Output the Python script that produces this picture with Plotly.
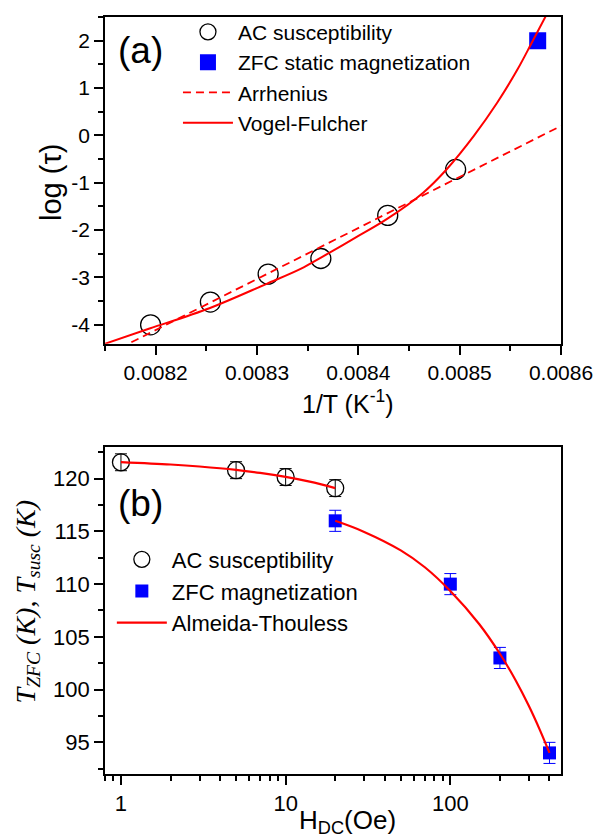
import plotly.graph_objects as go

# ---------------- Panel (a) data ----------------
ac_invT = [0.008195, 0.008254, 0.008311, 0.008363, 0.008429, 0.008496]
ac_logtau = [-4.00, -3.52, -2.93, -2.60, -1.69, -0.72]
zfc_invT = [0.008577]
zfc_logtau = [2.00]
arr_invT = [0.008176, 0.0086]
arr_logtau = [-4.37, 0.20]
vf_invT = [0.00815, 0.008194, 0.008253, 0.008309, 0.008343, 0.008364, 0.008398,
           0.008428, 0.008464, 0.008487, 0.008514, 0.008537, 0.008557, 0.008571, 0.008585]
vf_logtau = [-4.40, -4.08, -3.65, -3.14, -2.82, -2.57, -2.15,
             -1.77, -1.21, -0.72, -0.01, 0.69, 1.39, 1.95, 2.52]
a_xtick_vals = [0.0082, 0.0083, 0.0084, 0.0085, 0.0086]
a_xtick_text = ["0.0082", "0.0083", "0.0084", "0.0085", "0.0086"]
a_ytick_vals = [-4, -3, -2, -1, 0, 1, 2]
a_ytick_text = ["-4", "-3", "-2", "-1", "0", "1", "2"]

# ---------------- Panel (b) data ----------------
ac_H = [1, 5, 10, 20]
ac_T = [121.55, 120.8, 120.15, 119.1]
ac_err = [0.8, 0.8, 0.8, 0.8]
zfc_H = [20, 100, 200, 400]
zfc_T = [116.0, 110.0, 103.0, 94.0]
zfc_err = [1.0, 1.0, 1.0, 1.0]
at1_H = [1, 2, 3, 5, 7, 10, 14, 20]
at1_T = [121.57, 121.34, 121.15, 120.83, 120.54, 120.16, 119.71, 119.1]
at2_H = [20, 30, 50, 70, 100, 150, 200, 250, 300, 350, 400]
at2_T = [116.0, 114.95, 113.2, 111.6, 109.35, 106.2, 103.4, 100.84, 98.44, 96.16, 94.0]
b_ytick_vals = [95, 100, 105, 110, 115, 120]

RED = "#FF0000"
BLUE = "#0000FF"
FONT = "Liberation Sans"

fig = go.Figure()

# Panel (a)
fig.add_trace(go.Scatter(x=ac_invT, y=ac_logtau, mode="markers", name="AC susceptibility",
                         marker=dict(symbol="circle-open", size=20, color="black", line=dict(width=1.3)),
                         xaxis="x", yaxis="y", legend="legend", legendrank=1))
fig.add_trace(go.Scatter(x=zfc_invT, y=zfc_logtau, mode="markers", name="ZFC static magnetization",
                         marker=dict(symbol="square", size=17, color=BLUE),
                         xaxis="x", yaxis="y", legend="legend", legendrank=2))
fig.add_trace(go.Scatter(x=arr_invT, y=arr_logtau, mode="lines", name="Arrhenius",
                         line=dict(color=RED, width=1.8, dash="8px,5px"),
                         xaxis="x", yaxis="y", legend="legend", legendrank=3))
fig.add_trace(go.Scatter(x=vf_invT, y=vf_logtau, mode="lines", name="Vogel-Fulcher",
                         line=dict(color=RED, width=2, shape="spline"),
                         xaxis="x", yaxis="y", legend="legend", legendrank=4))

# Panel (b)
fig.add_trace(go.Scatter(x=ac_H, y=ac_T, mode="markers", name="AC susceptibility",
                         marker=dict(symbol="circle-open", size=17, color="black", line=dict(width=1.3)),
                         error_y=dict(type="data", array=ac_err, color="black", thickness=1, width=6),
                         xaxis="x2", yaxis="y2", legend="legend2", legendrank=1))
fig.add_trace(go.Scatter(x=zfc_H, y=zfc_T, mode="markers", name="ZFC magnetization",
                         marker=dict(symbol="square", size=13, color=BLUE),
                         error_y=dict(type="data", array=zfc_err, color=BLUE, thickness=1, width=6),
                         xaxis="x2", yaxis="y2", legend="legend2", legendrank=2))
fig.add_trace(go.Scatter(x=at1_H, y=at1_T, mode="lines", name="Almeida-Thouless",
                         line=dict(color=RED, width=2.2, shape="spline"),
                         xaxis="x2", yaxis="y2", legend="legend2", legendrank=3))
fig.add_trace(go.Scatter(x=at2_H, y=at2_T, mode="lines", name="Almeida-Thouless", showlegend=False,
                         line=dict(color=RED, width=2.2, shape="spline"),
                         xaxis="x2", yaxis="y2", legend="legend2"))

axis_common = dict(showline=True, linecolor="black", linewidth=1.8, mirror=True,
                   ticks="outside", ticklen=9, tickwidth=1.5, tickcolor="black",
                   showgrid=False, zeroline=False, ticklabeloverflow="allow",
                   automargin=False,
                   tickfont=dict(family=FONT, size=21, color="black"))

fig.update_layout(
    width=594, height=840,
    margin=dict(l=105, r=33, t=14, b=66),
    paper_bgcolor="white", plot_bgcolor="white",
    font=dict(family=FONT, color="black"),
    xaxis=dict(axis_common, domain=[0, 1], range=[0.00815, 0.0086000001], anchor="y",
               tickmode="array", tickvals=a_xtick_vals, ticktext=a_xtick_text,
               minor=dict(ticks="outside", ticklen=5, tickwidth=1.5, tickcolor="black",
                          tick0=0.00815, dtick=0.00005)),
    yaxis=dict(axis_common, domain=[0.5684, 1], range=[-4.4, 2.5], anchor="x",
               tickmode="array", tickvals=a_ytick_vals, ticktext=a_ytick_text,
               minor=dict(ticks="outside", ticklen=5, tickwidth=1.5, tickcolor="black",
                          tick0=0, dtick=0.5)),
    xaxis2=dict(axis_common, domain=[0, 1], type="log",
                range=[-0.0969, 2.672], anchor="y2", dtick=1, tick0=0,
                tickfont=dict(family=FONT, size=22, color="black"),
                minor=dict(ticks="outside", ticklen=5, tickwidth=1.5, tickcolor="black",
                           dtick="D1")),
    yaxis2=dict(axis_common, domain=[0, 0.432], range=[92, 123], anchor="x2",
                tickmode="array", tickvals=b_ytick_vals,
                tickfont=dict(family=FONT, size=22, color="black"),
                minor=dict(ticks="outside", ticklen=5, tickwidth=1.5, tickcolor="black",
                           tick0=90, dtick=2.5)),
    legend=dict(x=0.16, y=1.007, xanchor="left", yanchor="top", bgcolor="rgba(0,0,0,0)",
                font=dict(family=FONT, size=21, color="black"), itemwidth=50,
                tracegroupgap=0),
    legend2=dict(x=0.015, y=0.311, xanchor="left", yanchor="top", bgcolor="rgba(0,0,0,0)",
                 font=dict(family=FONT, size=22, color="black"), itemwidth=50,
                 tracegroupgap=0),
)

anns = [
    dict(text="(a)", x=0.0768, y=0.956, font=dict(size=37)),
    dict(text="(b)", x=0.0768, y=0.357, font=dict(size=37)),
    dict(text="1/T (K<sup>-1</sup>)", x=(347.5 - 105) / 456, y=0.492, font=dict(size=25)),
    dict(text="H<sub>DC</sub>(Oe)", x=(347.5 - 105) / 456, y=-0.063, font=dict(size=26)),
    dict(text="log (τ)", x=(51 - 105) / 456, y=0.782, font=dict(size=29), textangle=-90),
    dict(text="<i>T</i><sub><i>ZFC</i></sub><i> (K), T</i><sub><i>susc</i></sub><i> (K)</i>",
         x=(27 - 105) / 456, y=0.228, textangle=-90,
         font=dict(size=28, family="Liberation Serif")),
]
for a in anns:
    a.setdefault("font", {})
    a["font"].setdefault("family", FONT)
    a["font"]["color"] = "black"
    fig.add_annotation(xref="paper", yref="paper", showarrow=False,
                       xanchor="center", yanchor="middle", **a)

# remove the browser's default 8px body margin so the figure fills the window exactly
fig.write_html("out.html", config={"displayModeBar": False},
               post_script="document.body.style.margin='0';document.body.style.overflow='hidden';")
